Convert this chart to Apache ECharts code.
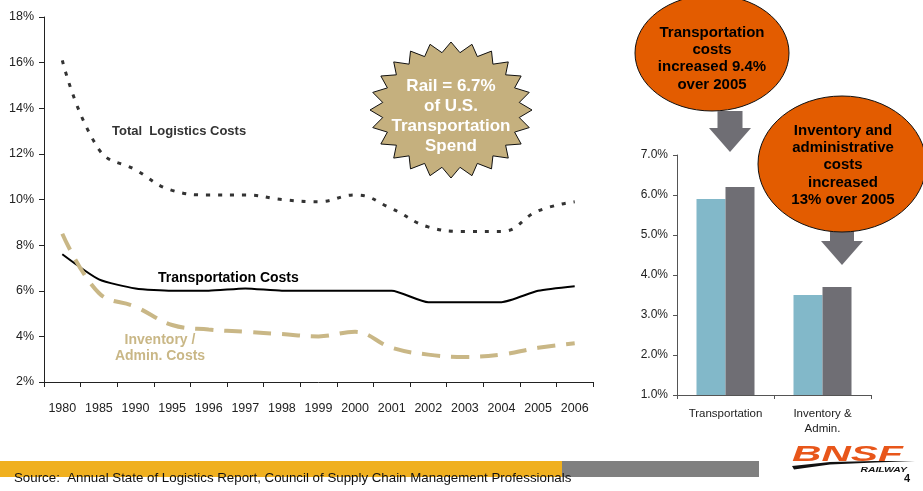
<!DOCTYPE html>
<html><head><meta charset="utf-8">
<script src="https://cdn.jsdelivr.net/npm/echarts@6/dist/echarts.min.js"></script>
<style>html,body{margin:0;padding:0;background:#fff}#c{width:923px;height:491px}</style>
</head><body><div id="c"></div>
<script>
const years = ['1980','1985','1990','1995','1996','1997','1998','1999','2000','2001','2002','2003','2004','2005','2006'];
const totalLogistics = [16.1,12.2,11.3,10.4,10.2,10.2,10.0,9.9,10.2,9.6,8.8,8.6,8.6,9.5,9.9];
const transportation = [7.6,6.5,6.1,6.0,6.0,6.1,6.0,6.0,6.0,6.0,5.5,5.5,5.5,6.0,6.2];
const inventoryAdmin = [8.5,5.9,5.3,4.5,4.3,4.2,4.1,4.0,4.2,3.5,3.2,3.1,3.2,3.5,3.7];
const barCategories = ['Transportation','Inventory &\nAdmin.'];
const bars2005 = [5.9,3.5];
const bars2006 = [6.2,3.7];

const FONT = '"Liberation Sans", Arial, sans-serif';
const chart = echarts.init(document.getElementById('c'), null, {renderer:'canvas'});

function star(cx, cy, rx, ry, n, k) {
  const pts = [];
  for (let i = 0; i < n * 2; i++) {
    const a = Math.PI * i / n - Math.PI / 2;
    const f = i % 2 === 0 ? 1 : k;
    pts.push([cx + rx * f * Math.cos(a), cy + ry * f * Math.sin(a)]);
  }
  return pts;
}
function arrow(cx, top, rectW, mid, triW, tip) {
  return [[cx - rectW/2, top],[cx + rectW/2, top],[cx + rectW/2, mid],[cx + triW/2, mid],[cx, tip],[cx - triW/2, mid],[cx - rectW/2, mid]];
}

const option = {
  backgroundColor: '#fff',
  animation: false,
  grid: [
    {left: 44, top: 17, width: 549, height: 365},
    {left: 677, top: 155, width: 194, height: 240}
  ],
  xAxis: [
    {gridIndex: 0, type: 'category', data: years, boundaryGap: true,
     axisLine: {lineStyle: {color: '#222', width: 1}},
     axisTick: {show: true, length: 5, lineStyle: {color: '#222'}},
     axisLabel: {color: '#222', fontFamily: FONT, fontSize: 12.5, margin: 20}},
    {gridIndex: 1, type: 'category', data: barCategories, boundaryGap: true,
     axisLine: {lineStyle: {color: '#555', width: 1}},
     axisTick: {show: true, length: 4, lineStyle: {color: '#555'}},
     axisLabel: {color: '#222', fontFamily: FONT, fontSize: 11.5, margin: 11, lineHeight: 15}}
  ],
  yAxis: [
    {gridIndex: 0, type: 'value', min: 2, max: 18, interval: 2,
     axisLine: {show: true, lineStyle: {color: '#222'}},
     axisTick: {show: true, length: 5, lineStyle: {color: '#222'}},
     splitLine: {show: false},
     axisLabel: {color: '#222', fontFamily: FONT, fontSize: 12.5, margin: 10, formatter: v => v + '%'}},
    {gridIndex: 1, type: 'value', min: 1, max: 7, interval: 1,
     axisLine: {show: true, lineStyle: {color: '#555'}},
     axisTick: {show: true, length: 4, lineStyle: {color: '#555'}},
     splitLine: {show: false},
     axisLabel: {color: '#222', fontFamily: FONT, fontSize: 12, margin: 9, formatter: v => v.toFixed(1) + '%'}}
  ],
  series: [
    {type: 'line', xAxisIndex: 0, yAxisIndex: 0, data: totalLogistics, smooth: 0.45, symbol: 'none',
     lineStyle: {color: '#333', width: 3, type: [4, 8]}},
    {type: 'line', xAxisIndex: 0, yAxisIndex: 0, data: transportation, smooth: 0.2, symbol: 'none',
     lineStyle: {color: '#000', width: 2}},
    {type: 'line', xAxisIndex: 0, yAxisIndex: 0, data: inventoryAdmin, smooth: 0.4, symbol: 'none',
     lineStyle: {color: '#c9b786', width: 4, type: [18, 11]}},
    {type: 'bar', xAxisIndex: 1, yAxisIndex: 1, data: bars2005, barWidth: 29, barGap: '0%',
     itemStyle: {color: '#82b8c9'}},
    {type: 'bar', xAxisIndex: 1, yAxisIndex: 1, data: bars2006, barWidth: 29, barGap: '0%',
     itemStyle: {color: '#6f6e74'}}
  ],
  graphic: [
    {type: 'text', left: 112, top: 125, style: {text: 'Total  Logistics Costs', fill: '#333', font: 'bold 13px ' + FONT}},
    {type: 'text', left: 158, top: 271, style: {text: 'Transportation Costs', fill: '#000', font: 'bold 14px ' + FONT}},
    {type: 'text', x: 160, y: 332, style: {text: 'Inventory /\nAdmin. Costs', fill: '#c9b786', font: 'bold 14px ' + FONT, align: 'center', lineHeight: 16}},
    {type: 'polygon', shape: {points: star(451, 110, 81, 68, 24, 0.85)}, style: {fill: '#c5b07e', stroke: '#111', lineWidth: 1}},
    {type: 'text', x: 451, y: 76, style: {text: 'Rail = 6.7%\nof U.S.\nTransportation\nSpend', fill: '#fff', font: 'bold 17px ' + FONT, align: 'center', lineHeight: 20}},
    {type: 'ellipse', shape: {cx: 712, cy: 53, rx: 77, ry: 58}, style: {fill: '#e35c00', stroke: '#111', lineWidth: 1}},
    {type: 'text', x: 712, y: 24, style: {text: 'Transportation\ncosts\nincreased 9.4%\nover 2005', fill: '#000', font: 'bold 15px ' + FONT, align: 'center', lineHeight: 17.3}},
    {type: 'polygon', shape: {points: arrow(730, 111, 25, 128, 42, 152)}, style: {fill: '#6f6e74'}},
    {type: 'polygon', shape: {points: arrow(842, 231, 24, 241, 42, 265)}, style: {fill: '#6f6e74'}},
    {type: 'ellipse', shape: {cx: 842, cy: 164, rx: 84, ry: 68}, style: {fill: '#e35c00', stroke: '#111', lineWidth: 1}},
    {type: 'text', x: 843, y: 122, style: {text: 'Inventory and\nadministrative\ncosts\nincreased\n13% over 2005', fill: '#000', font: 'bold 15px ' + FONT, align: 'center', lineHeight: 17.3}},
    {type: 'rect', shape: {x: 0, y: 461, width: 562, height: 16}, style: {fill: '#f0b01f'}},
    {type: 'rect', shape: {x: 562, y: 461, width: 197, height: 16}, style: {fill: '#808080'}},
    {type: 'text', left: 14, top: 472, style: {text: 'Source:  Annual State of Logistics Report, Council of Supply Chain Management Professionals', fill: '#111', font: '13.3px ' + FONT}},
    // logo
    {type: 'text', x: 792, y: 444, scaleX: 1.85, style: {text: 'BNSF', fill: '#e8561a', font: 'italic bold 22px ' + FONT, align: 'left'}},
    {type: 'polygon', shape: {points: [[792, 466],[830, 462],[875, 461],[915, 461],[875, 462.5],[830, 464.5],[794, 469.5]]}, style: {fill: '#111'}},
    {type: 'text', x: 907, y: 466, scaleX: 1.3, style: {text: 'RAILWAY', fill: '#111', font: 'italic bold 8px ' + FONT, align: 'right'}},
    {type: 'text', x: 907, y: 473, style: {text: '4', fill: '#111', font: 'bold 11px ' + FONT, align: 'center'}}
  ]
};
chart.setOption(option);
</script></body></html>
